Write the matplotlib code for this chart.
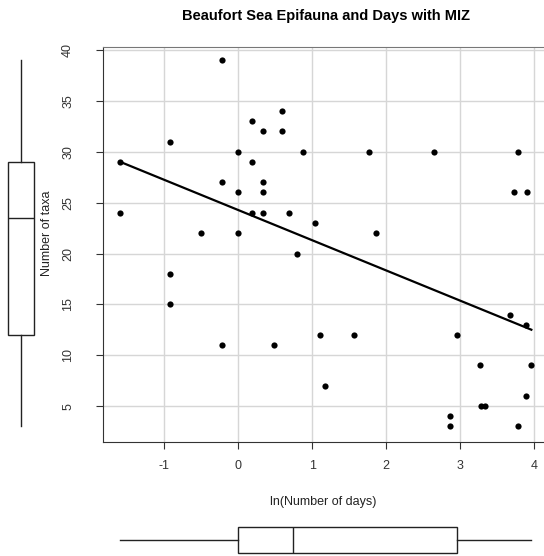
import matplotlib.pyplot as plt
from matplotlib import cbook
import numpy as np

plt.rcParams['font.family'] = ['Liberation Sans', 'DejaVu Sans']
plt.rcParams['axes.unicode_minus'] = False

# ln(number of days) and number of taxa
ln_days = [-0.22, 0.59, 0.18, 0.34, 0.59, -0.92, 0.0, 0.88, 1.76, 2.64, 3.78,
           -1.6, 0.18, -0.22, 0.34, 0.0, 0.34, 3.73, 3.9, -1.6, 0.18, 0.34,
           0.69, 1.03, -0.51, 0.0, 1.86, 0.79, -0.92, -0.92, 3.67, 3.89, 1.1,
           1.57, 2.96, -0.22, 0.48, 3.27, 3.96, 1.17, 3.89, 3.28, 3.33, 2.86,
           2.86, 3.78]
taxa = [39, 34, 33, 32, 32, 31, 30, 30, 30, 30, 30,
        29, 29, 27, 27, 26, 26, 26, 26, 24, 24, 24,
        24, 23, 22, 22, 22, 20, 18, 15, 14, 13, 12,
        12, 12, 11, 11, 9, 9, 7, 6, 5, 5, 4,
        3, 3]
xticks = [-1, 0, 1, 2, 3, 4]
yticks = [5, 10, 15, 20, 25, 30, 35, 40]

x = np.array(ln_days)
y = np.array(taxa)


def tukey_stats(v):
    # R-style boxplot: hinges instead of percentiles, whiskers to the extremes
    st = cbook.boxplot_stats(v, whis=(0, 100))[0]
    s = np.sort(v)
    half = (len(s) + 1) // 2
    st['q1'] = np.median(s[:half])
    st['q3'] = np.median(s[-half:])
    st['fliers'] = []
    return [st]


W, H = 544, 556
fig = plt.figure(figsize=(W / 100, H / 100), dpi=100)

# main scatter axes
L, R, T, B = 103.3, 544, 46.7, 441.7
ax = fig.add_axes([L / W, 1 - B / H, (R - L) / W, (B - T) / H])
ax.set_xlim(-1.824, 4.131)
ax.set_ylim(1.5, 40.33)
ax.set_xticks(xticks)
ax.set_yticks(yticks)
ax.grid(True, color='#d6d6d6', linewidth=1)
ax.set_axisbelow(True)
ax.scatter(x, y, s=20, color='black', zorder=3, linewidths=0)

coef = np.polyfit(x, y, 1)
xs = np.array([x.min(), x.max()])
ax.plot(xs, np.polyval(coef, xs), color='black', linewidth=1.6, zorder=3)

for s in ['left', 'bottom']:
    ax.spines[s].set_color('#333333')
ax.spines['top'].set_color('#777777')
ax.spines['right'].set_visible(False)
ax.tick_params(axis='both', length=5, color='#333333', labelcolor='#333333',
               labelsize=9)
ax.tick_params(axis='y', pad=16)
ax.tick_params(axis='x', pad=8)
for lab in ax.get_yticklabels():
    lab.set_rotation(90)
    lab.set_va('center')

ax.set_xlabel('ln(Number of days)', fontsize=9, color='#222222')
ax.xaxis.set_label_coords((323 - L) / (R - L), (B - 501.7) / (B - T))
ax.xaxis.label.set_va('center')
ax.set_ylabel('Number of taxa', fontsize=9, color='#222222')
ax.yaxis.set_label_coords((47 - L) / (R - L), (B - 233) / (B - T))
ax.yaxis.label.set_va('center')

fig.text(326.5 / W, 1 - 16 / H, 'Beaufort Sea Epifauna and Days with MIZ',
         ha='center', va='center', fontsize=10.5, fontweight='bold')

box_style = dict(showcaps=False, showfliers=False, patch_artist=True,
                 boxprops=dict(facecolor='white', edgecolor='#222222', linewidth=1),
                 medianprops=dict(color='#222222', linewidth=1),
                 whiskerprops=dict(color='#222222', linewidth=1))

# left marginal boxplot of taxa
axl = fig.add_axes([0, 1 - B / H, 42.6 / W, (B - T) / H])
axl.bxp(tukey_stats(y), positions=[1], widths=0.61, **box_style)
axl.set_xlim(0.5, 1.5)
axl.set_ylim(1.5, 40.33)
axl.axis('off')

# bottom marginal boxplot of ln(days)
axb = fig.add_axes([L / W, 0, (R - L) / W, 32 / H])
axb.bxp(tukey_stats(x), positions=[1], widths=0.8125, orientation='horizontal',
        **box_style)
axb.set_xlim(-1.824, 4.131)
axb.set_ylim(0.5, 1.5)
axb.axis('off')

fig.savefig('out.png', dpi=100)
